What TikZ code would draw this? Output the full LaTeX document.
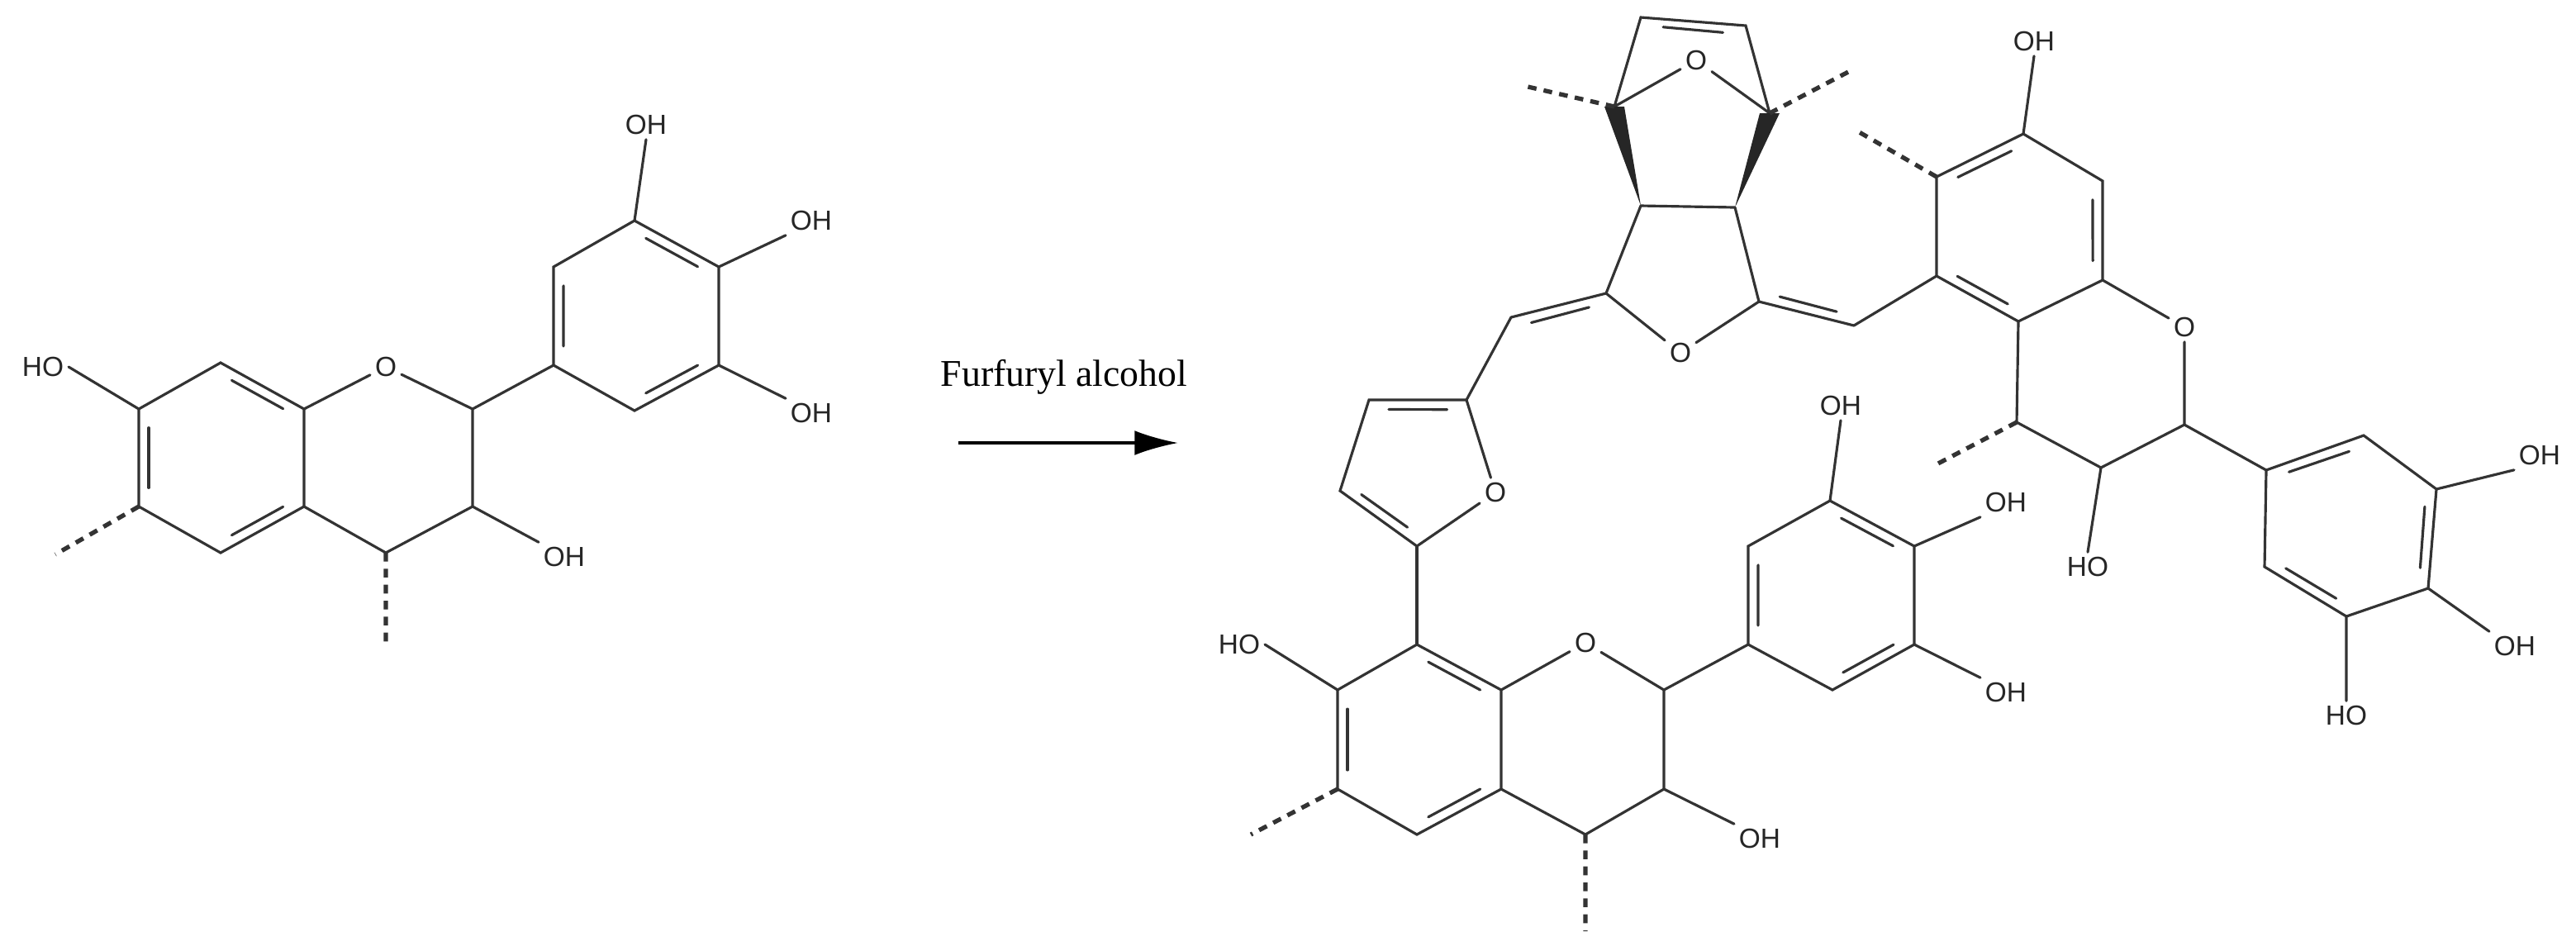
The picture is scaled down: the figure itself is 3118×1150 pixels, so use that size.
\documentclass[tikz,border=0pt]{standalone}
\usepackage{fontspec}
\setmainfont{Liberation Serif}
\newfontfamily\lab{Liberation Sans}
\usetikzlibrary{calc,arrows.meta}
\newcommand\db[3]{\path ($(#1)!0.15!(#2)$) coordinate (dbA) ($(#1)!0.85!(#2)$) coordinate (dbB);
 \draw[bond] ($(dbA)!0.13cm!(#3)$) -- ($(dbB)!0.13cm!(#3)$);}
\begin{document}
\begin{tikzpicture}[x=0.01cm,y=-0.01cm,
 bond/.style={line width=0.9pt,line cap=round,black!80},
 hash/.style={line width=1.5pt,dash pattern=on 3pt off 2.5pt,black!80},
 atom/.style={font=\lab\fontsize{9.5}{10}\selectfont,inner sep=1.5pt,text=black!85},
 wedgefill/.style={fill=black}]
\useasboundingbox (0,0) rectangle (3118,1150);
% ---------- left molecule ----------
\foreach \n/\p in {a7/{168,495},a8/{267,439},a8a/{368,495},a2/{572,495},a3/{572,613},a4/{467,669},a4a/{368,613},a5/{267,669},a6/{168,613},
 b1/{670,442},b2/{670,323},b3/{768,267},b4/{870,323},b5/{870,442},b6/{768,497},ac/{268,554},bc/{770,382},ae1/{67,671},ae2/{467,785}}
 \coordinate (\n) at (\p);
\node[atom] (aO) at (467,444) {O};
\node[atom] (aHO7) at (52,444) {HO};
\node[atom] (aOH3) at (683,674) {OH};
\node[atom] (bOH3) at (782,151) {OH};
\node[atom] (bOH4) at (982,267) {OH};
\node[atom] (bOH5) at (982,500) {OH};
\draw[bond] (a7)--(a8)--(a8a)--(aO)--(a2)--(a3)--(a4)--(a4a)--(a5)--(a6)--(a7);
\draw[bond] (a8a)--(a4a) (a2)--(b1)--(b2)--(b3)--(b4)--(b5)--(b6)--(b1);
\draw[bond] (a7)--(aHO7.east) (a3)--(aOH3.north west) (b3)--(bOH3.south) (b4)--(bOH4.south west) (b5)--(bOH5.north west);
\db{a8}{a8a}{ac}\db{a7}{a6}{ac}\db{a5}{a4a}{ac}
\db{b1}{b2}{bc}\db{b3}{b4}{bc}\db{b5}{b6}{bc}
\draw[hash] (a6)--(ae1) (a4)--(ae2);
% ---------- arrow ----------
\coordinate (arA) at (1160,536); \coordinate (arB) at (1426,536);
\draw[line width=0.9pt,-{Latex[length=15pt,width=8.5pt]}] (arA)--(arB);
\node[font=\fontsize{13}{15}\selectfont] (reag) at (1288,456) {Furfuryl alcohol};
% ---------- bicyclic ----------
\foreach \n/\p in {t1/{1986,21},t2/{2113,31},bh1/{1954,129},bh2/{2142,137},w1/{1986,249},w2/{2100,251},
 l1/{1944,355},l2/{2129,365},ex1/{1829,384},ex2/{2244,394},he1/{1845,104},he2/{2241,85},tc/{2050,80},lsd/{1900,460},rsd/{2200,300}}
 \coordinate (\n) at (\p);
\node[atom] (tO) at (2053,73) {O};
\node[atom] (lO) at (2034,427) {O};
\draw[bond] (bh1)--(t1)--(t2)--(bh2) (bh1)--(tO)--(bh2) (w1)--(w2) (w1)--(l1)--(lO)--(l2)--(w2);
\db{t1}{t2}{tc}
\fill[black!85] ($(bh1)+(-12,0)$) -- ($(bh1)+(12,0)$) -- (w1) -- cycle;
\fill[black!85] ($(bh2)+(-12,0)$) -- ($(bh2)+(12,0)$) -- (w2) -- cycle;
\draw[hash] (bh1)--(he1) (bh2)--(he2);
\draw[bond] (l1)--(ex1) (l2)--(ex2);
\db{l1}{ex1}{lsd}\db{l2}{ex2}{rsd}
% ---------- furan ----------
\foreach \n/\p in {f2/{1775,484},f3/{1657,484},f4/{1622,594},f5/{1715,661},fc/{1718,565}}
 \coordinate (\n) at (\p);
\node[atom] (fO) at (1810,596) {O};
\draw[bond] (ex1)--(f2)--(f3)--(f4)--(f5)--(fO)--(f2);
\db{f2}{f3}{fc}\db{f4}{f5}{fc}
% ---------- lower catechin ----------
\foreach \n/\p in {c8/{1715,780},c7/{1619,835},c6/{1619,955},c5/{1715,1010},c4a/{1817,955},c8a/{1817,835},
 c2/{2014,835},c3/{2014,955},c4/{1919,1010},cc/{1718,895},ce1/{1514,1010},ce2/{1919,1127},
 d1/{2116,780},d2/{2116,661},d3/{2215,606},d4/{2317,661},d5/{2317,780},d6/{2218,835},dc/{2216,720}}
 \coordinate (\n) at (\p);
\node[atom] (cO) at (1919,778) {O};
\node[atom] (cHO7) at (1500,780) {HO};
\node[atom] (cOH3) at (2130,1015) {OH};
\node[atom] (dOH3) at (2228,491) {OH};
\node[atom] (dOH4) at (2428,608) {OH};
\node[atom] (dOH5) at (2428,838) {OH};
\draw[bond] (f5)--(c8);
\draw[bond] (c8)--(c7)--(c6)--(c5)--(c4a)--(c8a)--(c8) (c8a)--(cO)--(c2)--(c3)--(c4)--(c4a);
\draw[bond] (c2)--(d1)--(d2)--(d3)--(d4)--(d5)--(d6)--(d1);
\draw[bond] (c7)--(cHO7.east) (c3)--(cOH3.north west) (d3)--(dOH3.south) (d4)--(dOH4.south west) (d5)--(dOH5.north west);
\db{c8}{c8a}{cc}\db{c7}{c6}{cc}\db{c5}{c4a}{cc}
\db{d1}{d2}{dc}\db{d3}{d4}{dc}\db{d5}{d6}{dc}
\draw[hash] (c6)--(ce1) (c4)--(ce2);
% ---------- upper catechin ----------
\foreach \n/\p in {e7/{2449,162},e8/{2545,219},e8a/{2545,339},e4a/{2443,389},e5/{2344,334},e6/{2344,214},
 e2/{2644,514},e3/{2543,566},e4/{2441,511},ec/{2445,276},ee1/{2247,158},ee2/{2342,563},
 g1/{2743,569},g2/{2861,527},g3/{2949,592},g4/{2939,712},g5/{2840,746},g6/{2741,686},gc/{2845,636}}
 \coordinate (\n) at (\p);
\node[atom] (eO) at (2644,396) {O};
\node[atom] (eOH7) at (2462,50) {OH};
\node[atom] (eHO3) at (2527,686) {HO};
\node[atom] (gOH3) at (3074,551) {OH};
\node[atom] (gOH4) at (3044,782) {OH};
\node[atom] (gHO5) at (2840,866) {HO};
\draw[bond] (ex2)--(e5);
\draw[bond] (e7)--(e8)--(e8a)--(e4a)--(e5)--(e6)--(e7) (e8a)--(eO)--(e2)--(e3)--(e4)--(e4a);
\draw[bond] (e2)--(g1)--(g2)--(g3)--(g4)--(g5)--(g6)--(g1);
\draw[bond] (e7)--(eOH7.south) (e3)--(eHO3.north) (g3)--(gOH3.south west) (g4)--(gOH4.north west) (g5)--(gHO5.north);
\db{e6}{e7}{ec}\db{e8}{e8a}{ec}\db{e5}{e4a}{ec}
\db{g1}{g2}{gc}\db{g3}{g4}{gc}\db{g5}{g6}{gc}
\draw[hash] (e6)--(ee1) (e4)--(ee2);
\end{tikzpicture}
\end{document}
